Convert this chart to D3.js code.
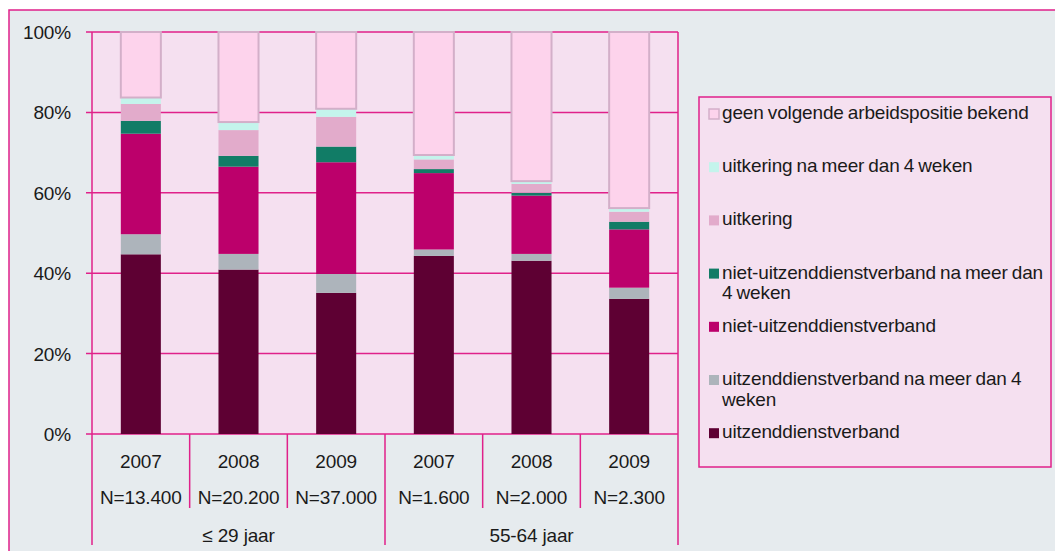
<!DOCTYPE html>
<html>
<head>
<meta charset="utf-8">
<script src="https://cdn.jsdelivr.net/npm/d3@7"></script>
<style>
  body { margin: 0; background: #fff; }
  svg text { font-family: "Liberation Sans", Arial, sans-serif; fill: #1a1a1a; letter-spacing: -0.15px; }
</style>
</head>
<body>
<svg width="1055" height="551"></svg>
<script>
// data (percent shares, bottom to top)
const years = ["2007", "2008", "2009", "2007", "2008", "2009"];
const nLabels = ["N=13.400", "N=20.200", "N=37.000", "N=1.600", "N=2.000", "N=2.300"];
const groups = ["\u2264 29 jaar", "55-64 jaar"];
const yTicks = [0, 0.2, 0.4, 0.6, 0.8, 1];

const uitzend = [44.7, 40.9, 35.1, 44.3, 43.1, 33.6];
const uitzendNa4 = [5.0, 3.9, 4.7, 1.6, 1.7, 2.8];
const nietUitzend = [25.0, 21.7, 27.8, 19.0, 14.5, 14.5];
const nietUitzendNa4 = [3.2, 2.7, 3.9, 1.0, 0.7, 1.9];
const uitkering = [4.2, 6.4, 7.4, 2.4, 2.2, 2.5];
const uitkeringNa4 = [1.6, 2.0, 2.0, 1.1, 0.7, 0.9];
const geen = [16.3, 22.4, 19.1, 30.6, 37.1, 43.8];

const seriesInfo = [
    {key: "uitzend", values: uitzend, color: "#5e0033", label: ["uitzenddienstverband"]},
    {key: "uitzendNa4", values: uitzendNa4, color: "#adb4bb", label: ["uitzenddienstverband na meer dan 4", "weken"]},
    {key: "nietUitzend", values: nietUitzend, color: "#bc006b", label: ["niet-uitzenddienstverband"]},
    {key: "nietUitzendNa4", values: nietUitzendNa4, color: "#117c66", label: ["niet-uitzenddienstverband na meer dan", "4 weken"]},
    {key: "uitkering", values: uitkering, color: "#e2abcb", label: ["uitkering"]},
    {key: "uitkeringNa4", values: uitkeringNa4, color: "#c4f4ec", label: ["uitkering na meer dan 4 weken"]},
    {key: "geen", values: geen, color: "#fdd3ec", label: ["geen volgende arbeidspositie bekend"]}
];

const pink = "#e0218a";
const fontSize = 19;
const svg = d3.select("svg");

// outer frame (runs off the right and bottom edges)
svg.append("rect").attr("x", 9).attr("y", 10).attr("width", 1100).attr("height", 600)
    .attr("fill", "#e6ebee").attr("stroke", pink).attr("stroke-width", 1.5);

const plotLeft = 92, plotRight = 678, plotTop = 32, plotBottom = 434;

const rows = years.map((y, i) => {
    const r = {i: i};
    seriesInfo.forEach(s => r[s.key] = s.values[i] / 100);
    return r;
});

const x = d3.scaleBand().domain(d3.range(years.length)).range([plotLeft, plotRight])
    .paddingInner(0.59).paddingOuter(0.295);
const y = d3.scaleLinear().domain([0, 1]).range([plotBottom, plotTop]);

// plot background
svg.append("rect").attr("x", plotLeft).attr("y", plotTop)
    .attr("width", plotRight - plotLeft).attr("height", plotBottom - plotTop)
    .attr("fill", "#f5e0f0");

// gridlines + ticks
svg.append("g").selectAll("line").data(yTicks).join("line")
    .attr("x1", plotLeft - 6).attr("x2", plotRight)
    .attr("y1", d => y(d)).attr("y2", d => y(d))
    .attr("stroke", pink).attr("stroke-width", 1.5);

svg.append("g").selectAll("text").data(yTicks).join("text")
    .attr("x", 71).attr("y", d => y(d) + 7)
    .attr("text-anchor", "end").attr("font-size", fontSize)
    .text(d3.format(".0%"));

const stack = d3.stack().keys(seriesInfo.map(s => s.key));
const stacked = stack(rows);

svg.append("g").selectAll("g").data(stacked).join("g")
    .attr("fill", (d, i) => seriesInfo[i].color)
    .each(function (layer, li) {
        d3.select(this).selectAll("rect").data(layer).join("rect")
            .attr("x", d => x(d.data.i))
            .attr("width", x.bandwidth())
            .attr("y", d => y(d[1]))
            .attr("height", d => y(d[0]) - y(d[1]))
            .attr("stroke", seriesInfo[li].key === "geen" ? "#d3afc9" : "none")
            .attr("stroke-width", 2);
    });

// plot border (left and right)
svg.append("line").attr("x1", plotLeft).attr("x2", plotLeft).attr("y1", plotTop).attr("y2", 545)
    .attr("stroke", pink).attr("stroke-width", 1.5);
svg.append("line").attr("x1", plotRight).attr("x2", plotRight).attr("y1", plotTop).attr("y2", 545)
    .attr("stroke", pink).attr("stroke-width", 1.5);

// category separators
const step = x.step();
svg.append("g").selectAll("line").data(d3.range(1, years.length)).join("line")
    .attr("x1", d => plotLeft + d * step).attr("x2", d => plotLeft + d * step)
    .attr("y1", plotBottom).attr("y2", d => d % 3 === 0 ? 545 : 508)
    .attr("stroke", pink).attr("stroke-width", 1.5);

svg.append("g").selectAll("text").data(years).join("text")
    .attr("x", (d, i) => x(i) + x.bandwidth() / 2).attr("y", 468)
    .attr("text-anchor", "middle").attr("font-size", fontSize).text(d => d);

svg.append("g").selectAll("text").data(nLabels).join("text")
    .attr("x", (d, i) => x(i) + x.bandwidth() / 2).attr("y", 504)
    .attr("text-anchor", "middle").attr("font-size", fontSize).text(d => d);

svg.append("g").selectAll("text").data(groups).join("text")
    .attr("x", (d, i) => plotLeft + (i * 3 + 1.5) * step).attr("y", 541.5)
    .attr("text-anchor", "middle").attr("font-size", fontSize).text(d => d);

// legend
svg.append("rect").attr("x", 699).attr("y", 97).attr("width", 352).attr("height", 370)
    .attr("fill", "#f5e0f0").attr("stroke", pink).attr("stroke-width", 1.5);

const legendItems = seriesInfo.slice().reverse();
const lg = svg.append("g").selectAll("g").data(legendItems).join("g")
    .attr("transform", (d, i) => `translate(709, ${119 + i * 53.2})`);

lg.append("rect").attr("x", 0).attr("y", -10).attr("width", 10).attr("height", 10)
    .attr("fill", d => d.color)
    .attr("stroke", d => d.key === "geen" ? "#d3afc9" : "none").attr("stroke-width", 1.5);

lg.each(function (d) {
    const t = d3.select(this).append("text").attr("x", 13).attr("y", 0).attr("font-size", fontSize)
        .attr("word-spacing", -1);
    d.label.forEach((line, k) => {
        t.append("tspan").attr("x", 13).attr("dy", k === 0 ? 0 : 20.5).text(line);
    });
});
</script>
</body>
</html>
